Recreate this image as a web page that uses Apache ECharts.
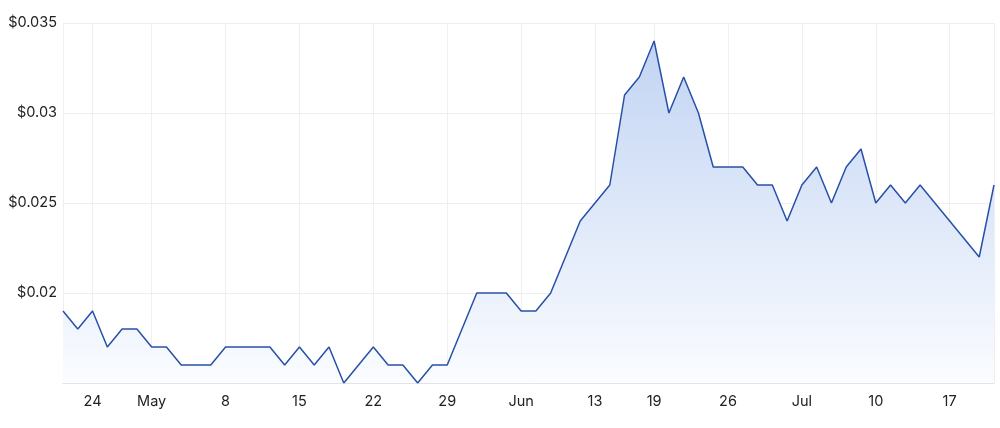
<!DOCTYPE html>
<html>
<head>
<meta charset="utf-8">
<script src="https://cdn.jsdelivr.net/npm/echarts@6/dist/echarts.min.js"></script>
<style>
html,body{margin:0;padding:0;background:#fff;}
#chart{width:1000px;height:428px;}
</style>
</head>
<body>
<div id="chart"></div>
<script>
const dates = [
  '2023-04-20','2023-04-21','2023-04-24','2023-04-26','2023-04-27','2023-04-28',
  '2023-05-01','2023-05-02','2023-05-03','2023-05-04','2023-05-05',
  '2023-05-08','2023-05-09','2023-05-10','2023-05-11','2023-05-12',
  '2023-05-15','2023-05-16','2023-05-17','2023-05-18','2023-05-19',
  '2023-05-22','2023-05-23','2023-05-24','2023-05-25','2023-05-26',
  '2023-05-29','2023-05-30','2023-05-31','2023-06-01','2023-06-02',
  '2023-06-05','2023-06-06','2023-06-07','2023-06-08','2023-06-09',
  '2023-06-13','2023-06-14','2023-06-15','2023-06-16',
  '2023-06-19','2023-06-20','2023-06-21','2023-06-22','2023-06-23',
  '2023-06-26','2023-06-27','2023-06-28','2023-06-29','2023-06-30',
  '2023-07-03','2023-07-04','2023-07-05','2023-07-06','2023-07-07',
  '2023-07-10','2023-07-11','2023-07-12','2023-07-13','2023-07-14',
  '2023-07-17','2023-07-18','2023-07-19','2023-07-20'
];
const prices = [
  0.019,0.018,0.019,0.017,0.018,0.018,
  0.017,0.017,0.016,0.016,0.016,
  0.017,0.017,0.017,0.017,0.016,
  0.017,0.016,0.017,0.015,0.016,
  0.017,0.016,0.016,0.015,0.016,
  0.016,0.018,0.020,0.020,0.020,
  0.019,0.019,0.020,0.022,0.024,
  0.025,0.026,0.031,0.032,
  0.034,0.030,0.032,0.030,0.027,
  0.027,0.027,0.026,0.026,0.024,
  0.026,0.027,0.025,0.027,0.028,
  0.025,0.026,0.025,0.026,0.025,
  0.024,0.023,0.022,0.026
];
const tickDates = ['2023-04-24','2023-05-01','2023-05-08','2023-05-15','2023-05-22','2023-05-29',
  '2023-06-05','2023-06-13','2023-06-19','2023-06-26','2023-07-03','2023-07-10','2023-07-17'];
const tickLabels = ['24','May','8','15','22','29','Jun','13','19','26','Jul','10','17'];
const yTicks = [0.015, 0.035, 0.005];

const chart = echarts.init(document.getElementById('chart'));
const lineIdx = i => tickDates.indexOf(dates[i]) >= 0 || i === 0 || i === dates.length - 1;
chart.setOption({
  animation: false,
  grid: {left: 63, right: 6, top: 23, bottom: 45},
  xAxis: {
    type: 'category',
    data: dates,
    boundaryGap: false,
    axisLine: {show: true, lineStyle: {color: '#e4e4e4', width: 1}},
    axisTick: {show: false},
    axisLabel: {
      interval: (i, v) => tickDates.indexOf(v) >= 0,
      formatter: v => tickLabels[tickDates.indexOf(v)] || '',
      color: '#222', fontSize: 14.5, fontFamily: 'Inter', margin: 11
    },
    splitLine: {show: true, interval: (i) => lineIdx(i), lineStyle: {color: '#efefef', width: 1}}
  },
  yAxis: {
    type: 'value',
    min: yTicks[0], max: yTicks[1], interval: yTicks[2],
    axisLine: {show: false},
    axisTick: {show: false},
    axisLabel: {
      formatter: v => (Math.abs(v - yTicks[0]) < 1e-9 ? '' : '$' + (+v.toFixed(4))),
      color: '#222', fontSize: 14.5, fontFamily: 'Inter', margin: 6
    },
    splitLine: {show: true, lineStyle: {color: '#efefef', width: 1}}
  },
  series: [{
    type: 'line',
    data: prices,
    symbol: 'none',
    lineStyle: {color: '#2850a8', width: 1.5},
    areaStyle: {
      opacity: 1,
      color: new echarts.graphic.LinearGradient(0, 0, 0, 1, [
        {offset: 0, color: '#c2d4f3'},
        {offset: 1, color: '#fafcff'}
      ])
    }
  }]
});
</script>
</body>
</html>
